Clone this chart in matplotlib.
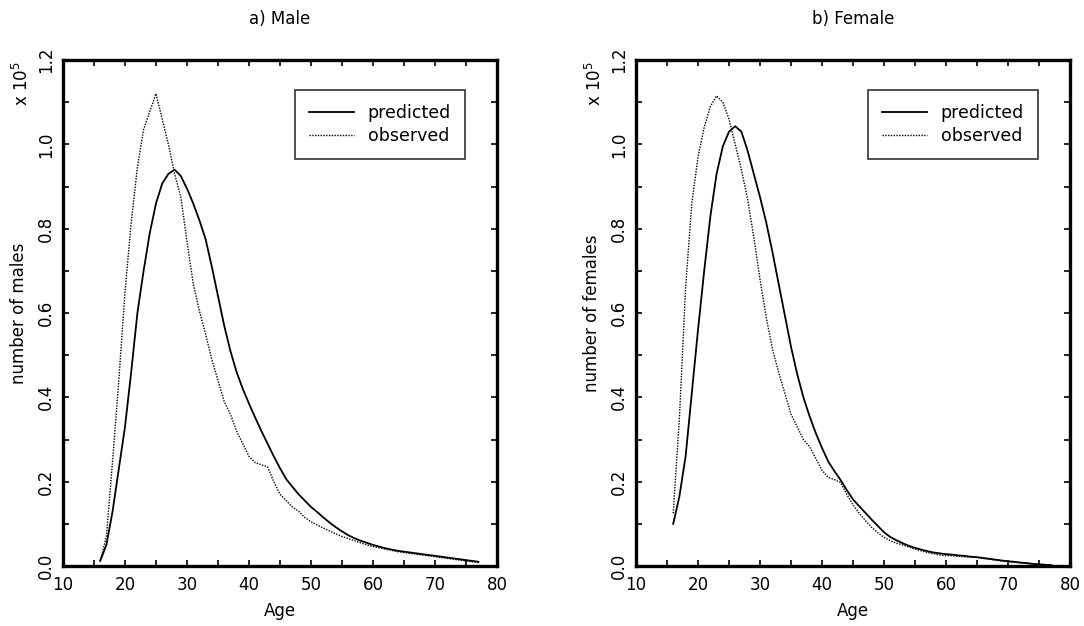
import matplotlib
matplotlib.use("Agg")
import matplotlib.pyplot as plt
from matplotlib.ticker import MultipleLocator, FixedLocator

plt.rcParams['font.family'] = ['DejaVu Sans']

ages = list(range(16, 78))

male_predicted = [
    0.012, 0.05, 0.13, 0.23, 0.33, 0.46, 0.60, 0.70, 0.79, 0.86,
    0.907, 0.93, 0.94, 0.925, 0.895, 0.86, 0.82, 0.775, 0.71, 0.64,
    0.57, 0.51, 0.46, 0.42, 0.385, 0.352, 0.32, 0.29, 0.26, 0.232,
    0.206, 0.188, 0.17, 0.155, 0.14, 0.128, 0.115, 0.103, 0.092, 0.082,
    0.073, 0.066, 0.060, 0.055, 0.050, 0.046, 0.042, 0.039, 0.036, 0.034,
    0.032, 0.030, 0.028, 0.026, 0.024, 0.022, 0.020, 0.018, 0.016, 0.014,
    0.012, 0.010,
]
male_observed = [
    0.012, 0.07, 0.25, 0.44, 0.65, 0.815, 0.946, 1.035, 1.078, 1.12,
    1.06, 1.00, 0.93, 0.875, 0.77, 0.67, 0.605, 0.55, 0.49, 0.44,
    0.39, 0.36, 0.32, 0.29, 0.26, 0.245, 0.24, 0.235, 0.20, 0.17,
    0.155, 0.14, 0.13, 0.115, 0.105, 0.097, 0.09, 0.083, 0.076, 0.070,
    0.065, 0.060, 0.055, 0.050, 0.046, 0.043, 0.040, 0.037, 0.034, 0.032,
    0.030, 0.028, 0.026, 0.024, 0.022, 0.020, 0.018, 0.016, 0.014, 0.012,
    0.010, 0.008,
]
female_predicted = [
    0.10, 0.165, 0.26, 0.41, 0.56, 0.70, 0.83, 0.93, 0.995, 1.03,
    1.043, 1.03, 0.985, 0.93, 0.875, 0.815, 0.745, 0.67, 0.595, 0.52,
    0.455, 0.40, 0.355, 0.315, 0.28, 0.248, 0.225, 0.204, 0.18, 0.158,
    0.142, 0.126, 0.11, 0.095, 0.080, 0.069, 0.061, 0.054, 0.048, 0.043,
    0.039, 0.035, 0.032, 0.030, 0.028, 0.027, 0.025, 0.024, 0.022, 0.021,
    0.019, 0.017, 0.015, 0.013, 0.011, 0.010, 0.008, 0.007, 0.005, 0.004,
    0.003, 0.002,
]
female_observed = [
    0.125, 0.35, 0.66, 0.86, 0.97, 1.04, 1.09, 1.115, 1.10, 1.06,
    1.00, 0.94, 0.87, 0.78, 0.68, 0.59, 0.515, 0.46, 0.41, 0.36,
    0.33, 0.30, 0.283, 0.255, 0.227, 0.21, 0.205, 0.198, 0.17, 0.145,
    0.125, 0.108, 0.092, 0.079, 0.068, 0.060, 0.054, 0.050, 0.045, 0.040,
    0.036, 0.032, 0.029, 0.026, 0.025, 0.024, 0.023, 0.022, 0.021, 0.020,
    0.018, 0.016, 0.014, 0.012, 0.011, 0.009, 0.008, 0.006, 0.005, 0.004,
    0.003, 0.002,
]

titles = ["a) Male", "b) Female"]
ylabels = ["number of males", "number of females"]
xticks = [10, 20, 30, 40, 50, 60, 70, 80]
yticks = [0.0, 0.2, 0.4, 0.6, 0.8, 1.0, 1.2]

fig = plt.figure(figsize=(10.84, 6.26), dpi=100)
lefts = [63 / 1084, 636 / 1084]
w = 434 / 1084
b = 1 - 566 / 626
h = 506 / 626

data = [(male_predicted, male_observed), (female_predicted, female_observed)]
FS = 12
for i in range(2):
    ax = fig.add_axes([lefts[i], b, w, h])
    pred, obs = data[i]
    ax.plot(ages, pred, color='black', lw=1.3, label='predicted')
    ax.plot(ages, obs, color='black', lw=1.0, linestyle=(0, (1, 1)), label='observed')
    ax.set_xlim(10, 80)
    ax.set_ylim(0, 1.2)
    ax.xaxis.set_major_locator(FixedLocator(xticks))
    ax.xaxis.set_minor_locator(MultipleLocator(5))
    ax.yaxis.set_major_locator(FixedLocator(yticks))
    ax.yaxis.set_minor_locator(MultipleLocator(0.1))
    ax.set_xticklabels([str(t) for t in xticks], fontsize=FS)
    ax.set_yticklabels([f"{t:.1f}" for t in yticks], fontsize=FS, rotation=90, va='center')
    ax.tick_params(which='both', direction='in', top=True, right=True, length=4.5, width=1.2)
    ax.tick_params(axis='x', pad=7)
    ax.tick_params(axis='y', pad=6)
    for s in ax.spines.values():
        s.set_linewidth(2.4)
    ax.set_title(titles[i], fontsize=FS, pad=26)
    ax.set_xlabel("Age", fontsize=FS, labelpad=6)
    ax.set_ylabel(ylabels[i], fontsize=FS, labelpad=6)
    ax.text(-0.095, 0.998, r"x 10$^5$", transform=ax.transAxes, rotation=90,
            fontsize=FS, ha='center', va='top')
    leg = ax.legend(loc='upper right', bbox_to_anchor=(1 - 32 / 434, 1 - 30 / 506),
                    fontsize=FS + 0.5, frameon=True, fancybox=False, borderaxespad=0,
                    handlelength=2.6, handletextpad=0.8, borderpad=0.8, labelspacing=0.3)
    leg.get_frame().set_edgecolor('black')
    leg.get_frame().set_linewidth(1.2)

fig.savefig("out.png", dpi=100)
